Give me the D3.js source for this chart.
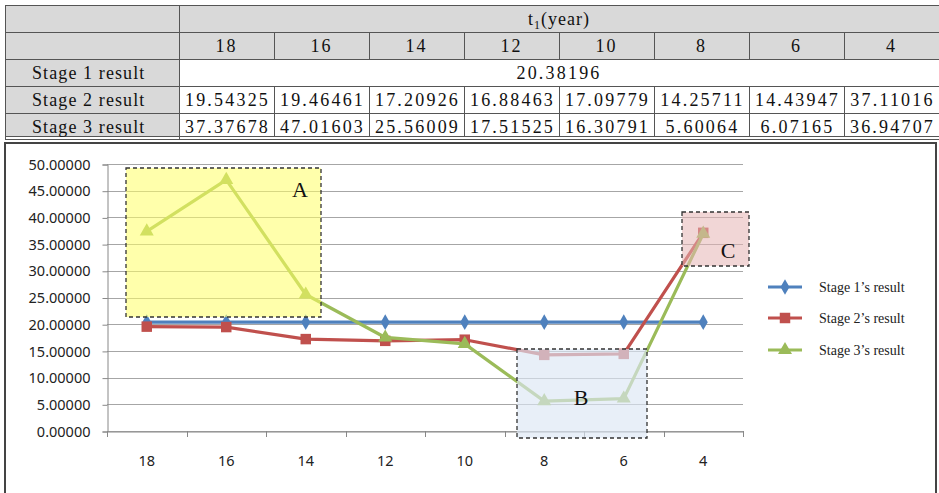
<!DOCTYPE html>
<html>
<head>
<meta charset="utf-8">
<script src="https://cdn.jsdelivr.net/npm/d3@7"></script>
<style>
  body { margin: 0; background: #fff; }
  svg { display: block; }
</style>
</head>
<body>
<div id="chart"></div>
<script>
// data
const years = ["18", "16", "14", "12", "10", "8", "6", "4"];
const stage1 = [20.38196, 20.38196, 20.38196, 20.38196, 20.38196, 20.38196, 20.38196, 20.38196];
const stage2 = [19.54325, 19.46461, 17.20926, 16.88463, 17.09779, 14.25711, 14.43947, 37.11016];
const stage3 = [37.37678, 47.01603, 25.56009, 17.51525, 16.30791, 5.60064, 6.07165, 36.94707];
const rowLabels = ["Stage 1 result", "Stage 2 result", "Stage 3 result"];
const legendLabels = ["Stage 1\u2019s result", "Stage 2\u2019s result", "Stage 3\u2019s result"];
const yTicks = [0, 5, 10, 15, 20, 25, 30, 35, 40, 45, 50];

const W = 939, H = 493;
const svg = d3.select("#chart").append("svg").attr("width", W).attr("height", H);

// ---------- table ----------
const tbl = svg.append("g").attr("class", "table");
const colX = d3.scaleBand().domain(years).range([179, 939]);
const rowTops = [5, 32, 59, 86, 113];
const grey = "#d9d9d9", lineC = "#555";
const serif = "'Liberation Serif', 'Times New Roman', serif";
const tfont = sel => sel.style("font-family", serif).style("font-size", "18px").attr("fill", "#111");

// header rows
tbl.append("rect").attr("x", 5).attr("y", 5).attr("width", 174).attr("height", 54).attr("fill", grey);
tbl.append("rect").attr("x", 179).attr("y", 5).attr("width", 760).attr("height", 54).attr("fill", grey);
// label column
tbl.append("rect").attr("x", 5).attr("y", 59).attr("width", 174).attr("height", 78).attr("fill", grey);

const hline = (y, x1, x2) => tbl.append("line").attr("x1", x1).attr("x2", x2).attr("y1", y).attr("y2", y)
  .attr("stroke", lineC).attr("stroke-width", 1);
const vline = (x, y1, y2) => tbl.append("line").attr("x1", x).attr("x2", x).attr("y1", y1).attr("y2", y2)
  .attr("stroke", lineC).attr("stroke-width", 1);

[5.5, 32.5, 59.5, 86.5, 113.5, 136.5, 139.5].forEach(y => hline(y, 5, 939));
vline(5.5, 5, 140);
vline(179.5, 5, 140);
years.forEach((d, i) => {
  if (i > 0) {
    vline(Math.round(colX(d)) + 0.5, 32, 59);
    vline(Math.round(colX(d)) + 0.5, 86, 137);
  }
});

tbl.append("text").attr("x", 559).attr("y", 25).attr("text-anchor", "middle").call(tfont)
  .style("letter-spacing", "1px")
  .html("t<tspan font-size='12px' dy='4'>1</tspan><tspan dy='-4'>(year)</tspan>");

tbl.selectAll("text.yr").data(years).enter().append("text").attr("class", "yr")
  .attr("x", d => colX(d) + colX.bandwidth() / 2).attr("y", 52)
  .attr("text-anchor", "middle").call(tfont).style("letter-spacing", "2px").text(d => d);

tbl.selectAll("text.rl").data(rowLabels).enter().append("text").attr("class", "rl")
  .attr("x", 32).attr("y", (d, i) => rowTops[i + 2] + 20)
  .call(tfont).style("letter-spacing", "1.1px").text(d => d);

tbl.append("text").attr("x", 559).attr("y", 79).attr("text-anchor", "middle")
  .call(tfont).style("letter-spacing", "2.2px").text(d3.format(".5f")(stage1[0]));

[stage2, stage3].forEach((vals, r) => {
  tbl.selectAll("text.v" + r).data(vals).enter().append("text").attr("class", "v" + r)
    .attr("x", (d, i) => colX(years[i]) + colX.bandwidth() / 2 + 1).attr("y", rowTops[r + 3] + 20)
    .attr("text-anchor", "middle").call(tfont).style("letter-spacing", "2.2px")
    .text(d => d3.format(".5f")(d));
});

// ---------- chart frame ----------
svg.append("path").attr("d", "M5,494 V143 H936 V494").attr("fill", "none")
  .attr("stroke", "#444").attr("stroke-width", 2);

// ---------- plot ----------
const x = d3.scaleBand().domain(years).range([107, 743]);
const y = d3.scaleLinear().domain([0, 50]).range([431, 164]);
const cx = d => x(d) + x.bandwidth() / 2;
const sans = "'Noto Sans', sans-serif";

const plot = svg.append("g");

plot.selectAll("line.grid").data(yTicks).enter().append("line").attr("class", "grid")
  .attr("x1", 107).attr("x2", 743).attr("y1", d => Math.round(y(d)) + 0.5).attr("y2", d => Math.round(y(d)) + 0.5)
  .attr("stroke", "#a6a6a6").attr("stroke-width", 1.2);

const yAxis = plot.append("g").attr("transform", "translate(107.5,0.5)")
  .call(d3.axisLeft(y).tickValues(yTicks).tickFormat(d3.format(".5f")).tickSize(5).tickPadding(12));
yAxis.select(".domain").attr("stroke", "#888");
yAxis.selectAll(".tick line").attr("stroke", "#888");
yAxis.selectAll("text").style("font-family", sans).style("font-size", "14.5px").attr("fill", "#222");

const xAxis = plot.append("g").attr("transform", "translate(0,431.5)")
  .call(d3.axisBottom(x).tickSize(0).tickPadding(24));
xAxis.select(".domain").attr("stroke", "#888");
xAxis.selectAll("text").style("font-family", sans).style("font-size", "14.5px").attr("fill", "#222");
// tick marks between categories
plot.selectAll("line.xt").data(years.concat(["end"])).enter().append("line").attr("class", "xt")
  .attr("x1", (d, i) => Math.round(107 + i * x.step()) + 0.5)
  .attr("x2", (d, i) => Math.round(107 + i * x.step()) + 0.5)
  .attr("y1", 431).attr("y2", 437).attr("stroke", "#888");

const series = [
  { vals: stage1, color: "#4f81bd", shape: d3.symbolDiamond, size: 70 },
  { vals: stage2, color: "#c0504d", shape: d3.symbolSquare, size: 110 },
  { vals: stage3, color: "#9bbb59", shape: d3.symbolTriangle, size: 85 }
];
const line = d3.line().x((d, i) => cx(years[i])).y(d => y(d));

series.forEach(s => {
  plot.append("path").datum(s.vals).attr("d", line).attr("fill", "none")
    .attr("stroke", s.color).attr("stroke-width", 3.2).attr("stroke-linejoin", "round");
  plot.selectAll(null).data(s.vals).enter().append("path")
    .attr("transform", (d, i) => `translate(${cx(years[i])},${y(d)})`)
    .attr("d", d3.symbol().type(s.shape).size(s.size)).attr("fill", s.color);
});

// ---------- highlight boxes ----------
const boxes = [
  { label: "A", x0: 126, x1: 321, y0: 168, y1: 317, fill: "#ffff66", op: 0.55, lx: 300, ly: 197 },
  { label: "B", x0: 517, x1: 647, y0: 349, y1: 438, fill: "#dce6f4", op: 0.65, lx: 581, ly: 405 },
  { label: "C", x0: 682, x1: 749, y0: 212, y1: 266, fill: "#e6b4b4", op: 0.55, lx: 728, ly: 258 }
];
const bx = svg.append("g");
boxes.forEach(b => {
  bx.append("rect").attr("x", b.x0).attr("y", b.y0).attr("width", b.x1 - b.x0).attr("height", b.y1 - b.y0)
    .attr("fill", b.fill).attr("fill-opacity", b.op);
  bx.append("rect").attr("x", b.x0).attr("y", b.y0).attr("width", b.x1 - b.x0).attr("height", b.y1 - b.y0)
    .attr("fill", "none").attr("stroke", "#333").attr("stroke-width", 1.3).attr("stroke-dasharray", "4,3");
  bx.append("text").attr("x", b.lx).attr("y", b.ly).attr("text-anchor", "middle")
    .style("font-family", "'Liberation Serif', serif").style("font-size", "22px").attr("fill", "#111").text(b.label);
});

// ---------- legend ----------
const lg = svg.append("g").attr("transform", "translate(768,0)");
const legY = [287, 318, 350];
series.forEach((s, i) => {
  lg.append("line").attr("x1", 0).attr("x2", 34).attr("y1", legY[i]).attr("y2", legY[i])
    .attr("stroke", s.color).attr("stroke-width", 3.2);
  lg.append("path").attr("transform", `translate(17,${legY[i]})`)
    .attr("d", d3.symbol().type(s.shape).size(s.size)).attr("fill", s.color);
  lg.append("text").attr("x", 51).attr("y", legY[i] + 5)
    .style("font-family", "'Liberation Serif', serif").style("font-size", "14px").attr("fill", "#222")
    .text(legendLabels[i]);
});
</script>
</body>
</html>
